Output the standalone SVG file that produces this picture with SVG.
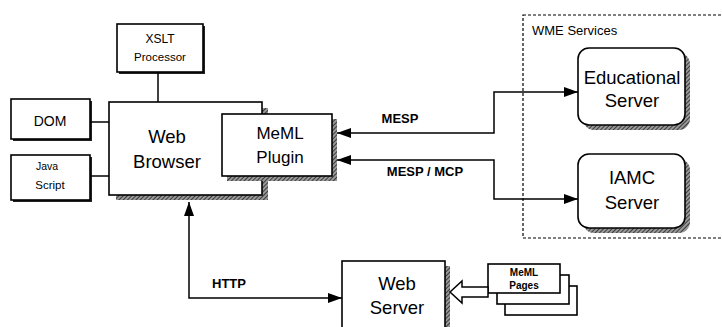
<svg xmlns="http://www.w3.org/2000/svg" width="722" height="327" viewBox="0 0 722 327">
<defs>
<pattern id="hatch" width="3" height="3" patternUnits="userSpaceOnUse" patternTransform="rotate(45)">
<rect width="3" height="3" fill="#999"/>
<line x1="0" y1="0" x2="0" y2="3" stroke="#222" stroke-width="1.6"/>
</pattern>
<marker id="ah" viewBox="0 0 14 10" refX="14" refY="5" markerWidth="14" markerHeight="10" markerUnits="userSpaceOnUse" orient="auto-start-reverse">
<path d="M0,0 L14,5 L0,10 z" fill="#000"/>
</marker>
</defs>
<style>
.box{fill:#fff;stroke:#000;stroke-width:1.6}
.sh{fill:url(#hatch)}
.dk{fill:#222}
.con{fill:none;stroke:#000;stroke-width:1.5}
.t{font-family:"Liberation Sans",Arial,sans-serif;fill:#000;text-anchor:middle}
.b{font-weight:bold}
</style>
<rect width="722" height="327" fill="#fff"/>

<g id="wme-services">
<rect x="523" y="15" width="215" height="223" fill="none" stroke="#000" stroke-width="1.2" stroke-dasharray="3,2"/>
<text class="t" x="532" y="35" font-size="13" style="text-anchor:start">WME Services</text>
</g>

<g id="xslt">
<rect class="dk" x="119" y="26" width="86" height="48"/>
<rect class="box" x="117" y="24" width="86" height="48"/>
<text class="t" x="160" y="43" font-size="12">XSLT</text>
<text class="t" x="160" y="61" font-size="11.5">Processor</text>
</g>

<g id="dom">
<rect class="dk" x="13" y="101" width="79" height="40"/>
<rect class="box" x="11" y="99" width="79" height="40"/>
<text class="t" x="50" y="126" font-size="14">DOM</text>
</g>

<g id="javascript">
<rect class="dk" x="13" y="157" width="79" height="45"/>
<rect class="box" x="11" y="155" width="79" height="45"/>
<text class="t" x="47" y="170" font-size="10.5">Java</text>
<text class="t" x="50" y="189" font-size="11.5">Script</text>
</g>

<g id="web-browser">
<rect class="sh" x="116" y="108" width="152" height="92"/>
<rect class="box" x="109" y="102" width="153" height="93"/>
<text class="t" x="167" y="143" font-size="18.5">Web</text>
<text class="t" x="167" y="168" font-size="18.5">Browser</text>
</g>

<g id="meml-plugin">
<rect class="sh" x="227" y="119" width="110" height="62"/>
<rect class="box" x="222" y="114" width="110" height="62"/>
<text class="t" x="280" y="139" font-size="17">MeML</text>
<text class="t" x="280" y="163" font-size="17">Plugin</text>
</g>

<g id="educational-server">
<rect class="sh" x="583" y="53" width="107" height="77" rx="11"/>
<rect class="box" x="578" y="48" width="107" height="77" rx="11"/>
<text class="t" x="632" y="84" font-size="18.5">Educational</text>
<text class="t" x="632" y="107" font-size="18.5">Server</text>
</g>

<g id="iamc-server">
<rect class="sh" x="583" y="159" width="107" height="74" rx="11"/>
<rect class="box" x="578" y="154" width="107" height="74" rx="11"/>
<text class="t" x="632" y="184" font-size="18.5">IAMC</text>
<text class="t" x="632" y="209" font-size="18.5">Server</text>
</g>

<g id="web-server">
<rect class="sh" x="347" y="266" width="103" height="70"/>
<rect class="box" x="342" y="261" width="103" height="75"/>
<text class="t" x="397" y="290" font-size="18.5">Web</text>
<text class="t" x="397" y="314" font-size="18.5">Server</text>
</g>

<g id="meml-pages">
<rect class="box" x="505" y="286" width="72" height="29"/>
<rect class="box" x="497" y="275" width="72" height="29"/>
<rect class="box" x="488" y="264" width="72" height="29"/>
<text class="t b" x="524" y="276" font-size="10">MeML</text>
<text class="t b" x="524" y="289" font-size="10">Pages</text>
</g>

<g id="connectors">
<path class="con" d="M158 72 V102"/>
<path class="con" d="M90 122 H109"/>
<path class="con" d="M90 176 H109"/>
<path class="con" d="M337 133 H494 V92 H578" marker-start="url(#ah)" marker-end="url(#ah)"/>
<path class="con" d="M337 160 H494 V199 H578" marker-start="url(#ah)" marker-end="url(#ah)"/>
<path class="con" d="M189 202 V298 H342" marker-start="url(#ah)" marker-end="url(#ah)"/>
<polygon points="450,292 462,281 462,287 488,287 488,297 462,297 462,303" fill="#fff" stroke="#000" stroke-width="1.5"/>
<text class="t b" x="400" y="123" font-size="13">MESP</text>
<text class="t b" x="425" y="176" font-size="13">MESP / MCP</text>
<text class="t b" x="229" y="288" font-size="13">HTTP</text>
</g>
</svg>
